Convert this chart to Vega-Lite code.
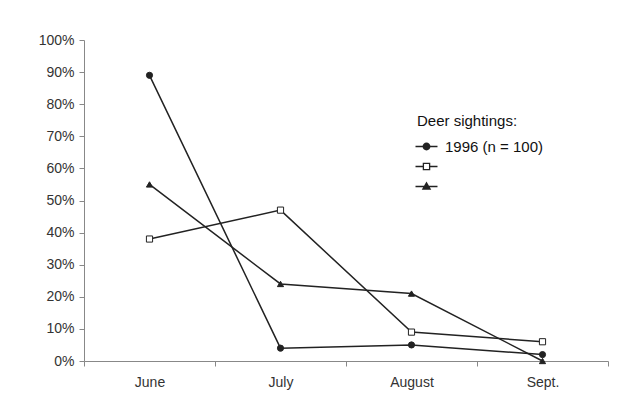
{
  "$schema": "https://vega.github.io/schema/vega-lite/v6.json",
  "width": 524,
  "height": 321,
  "autosize": {"type": "none"},
  "padding": {"left": 84, "top": 40, "right": 32, "bottom": 59},
  "background": "white",
  "data": {
    "values": [
      {"month": "June", "series": "1996 (n = 100)", "value": 0.89},
      {"month": "July", "series": "1996 (n = 100)", "value": 0.04},
      {"month": "August", "series": "1996 (n = 100)", "value": 0.05},
      {"month": "Sept.", "series": "1996 (n = 100)", "value": 0.02},
      {"month": "June", "series": "Series B", "value": 0.38},
      {"month": "July", "series": "Series B", "value": 0.47},
      {"month": "August", "series": "Series B", "value": 0.09},
      {"month": "Sept.", "series": "Series B", "value": 0.06},
      {"month": "June", "series": "Series C", "value": 0.55},
      {"month": "July", "series": "Series C", "value": 0.24},
      {"month": "August", "series": "Series C", "value": 0.21},
      {"month": "Sept.", "series": "Series C", "value": 0.0}
    ]
  },
  "encoding": {
    "x": {
      "field": "month", "type": "ordinal", "sort": ["June", "July", "August", "Sept."],
      "scale": {"type": "band", "paddingInner": 0, "paddingOuter": 0},
      "axis": {"title": null, "labelAngle": 0, "tickBand": "extent", "labelPadding": 9, "tickSize": 5, "domainColor": "#888", "tickColor": "#888", "labelColor": "#333", "labelFont": "Liberation Sans", "labelFontSize": 14}
    },
    "y": {
      "field": "value", "type": "quantitative",
      "scale": {"domain": [0, 1]},
      "axis": {"title": null, "format": ".0%", "values": [0,0.1,0.2,0.3,0.4,0.5,0.6,0.7,0.8,0.9,1], "labelOverlap": false, "grid": false, "tickSize": 5, "labelPadding": 5, "domainColor": "#888", "tickColor": "#888", "labelColor": "#333", "labelFont": "Liberation Sans", "labelFontSize": 14}
    }
  },
  "layer": [
    {
      "mark": {"type": "line", "color": "#222", "strokeWidth": 1.5},
      "encoding": {"detail": {"field": "series"}}
    },
    {
      "mark": {"type": "point", "stroke": "#222", "strokeWidth": 1, "opacity": 1, "size": 38, "filled": false},
      "encoding": {
        "shape": {
          "field": "series", "type": "nominal",
          "scale": {"domain": ["1996 (n = 100)", "Series B", "Series C"], "range": ["circle", "square", "triangle-up"]},
          "legend": null
        },
        "fill": {
          "field": "series", "type": "nominal",
          "scale": {"domain": ["1996 (n = 100)", "Series B", "Series C"], "range": ["#222", "white", "#222"]},
          "legend": null
        }
      }
    },
    {
      "mark": {"type": "point", "opacity": 0, "size": 30},
      "encoding": {
        "shape": {
          "field": "series", "type": "nominal",
          "scale": {"domain": ["1996 (n = 100)", "Series B", "Series C"], "range": [
            "M-1.27,0H1.27M0.38,0A0.38,0.38 0 1,1 -0.38,0A0.38,0.38 0 1,1 0.38,0ZM0.28,0A0.28,0.28 0 1,1 -0.28,0A0.28,0.28 0 1,1 0.28,0ZM0.18,0A0.18,0.18 0 1,1 -0.18,0A0.18,0.18 0 1,1 0.18,0ZM0.08,0A0.08,0.08 0 1,1 -0.08,0A0.08,0.08 0 1,1 0.08,0Z",
            "M-1.27,0H-0.36M0.36,0H1.27M-0.36,-0.36H0.36V0.36H-0.36Z",
            "M-1.27,0H1.27M0,-0.42L0.42,0.3H-0.42ZM0,-0.257L0.277,0.218H-0.277ZM0,-0.098L0.139,0.139H-0.139ZM0,0.02L0.03,0.08H-0.03Z"
          ]},
          "legend": {
            "title": "Deer sightings:",
            "orient": "none", "legendX": 333, "legendY": 74,
            "titleFont": "Liberation Sans", "titleFontSize": 15, "titleFontWeight": "normal", "titleColor": "#111", "titlePadding": 8,
            "labelFont": "Liberation Sans", "labelFontSize": 15, "labelColor": "#111", "labelOffset": 9,
            "labelExpr": "datum.label == '1996 (n = 100)' ? datum.label : ''",
            "symbolSize": 300, "rowPadding": 2, "symbolOpacity": 1,
            "symbolStrokeColor": "#222", "symbolStrokeWidth": 1.3, "symbolFillColor": "white"
          }
        }
      }
    }
  ],
  "resolve": {"scale": {"shape": "independent"}},
  "config": {"view": {"stroke": null}}
}
